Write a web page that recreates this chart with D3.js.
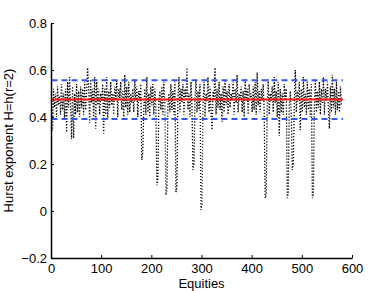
<!DOCTYPE html>
<html><head><meta charset="utf-8">
<script src="https://cdn.jsdelivr.net/npm/d3@7"></script>
<style>
html,body{margin:0;padding:0;background:#fff;}
svg text{font-family:"Liberation Sans",Arial,Helvetica,sans-serif;font-size:13px;fill:#000;}
</style></head>
<body>
<svg id="c" width="390" height="291"></svg>
<script>
// Equity index: 1,3,5,...,579 (every second equity)
const equityStart = 1, equityStep = 2;
const hurstValues = [
 0.47,0.34,0.52,0.44,0.50,0.40,0.53,0.45,0.49,0.41,
 0.54,0.43,0.50,0.39,0.52,0.335,0.55,0.44,0.57,0.45,
 0.305,0.53,0.31,0.50,0.41,0.54,0.42,0.51,0.40,0.53,
 0.44,0.52,0.41,0.55,0.43,0.50,0.61,0.53,0.375,0.56,
 0.46,0.52,0.40,0.57,0.35,0.55,0.45,0.52,0.41,0.50,
 0.47,0.54,0.33,0.52,0.41,0.57,0.39,0.51,0.44,0.55,
 0.45,0.50,0.41,0.53,0.47,0.56,0.40,0.52,0.48,0.55,
 0.43,0.51,0.40,0.58,0.44,0.53,0.41,0.55,0.42,0.50,
 0.46,0.52,0.42,0.56,0.47,0.53,0.40,0.51,0.47,0.54,
 0.217,0.25,0.44,0.52,0.41,0.57,0.42,0.50,0.40,0.53,
 0.45,0.54,0.41,0.52,0.44,0.11,0.13,0.46,0.51,0.43,
 0.53,0.41,0.55,0.45,0.068,0.09,0.44,0.50,0.42,0.54,
 0.43,0.51,0.41,0.55,0.08,0.10,0.47,0.57,0.42,0.52,
 0.46,0.54,0.41,0.52,0.47,0.61,0.43,0.50,0.40,0.55,
 0.44,0.175,0.20,0.47,0.56,0.42,0.51,0.43,0.54,0.005,
 0.03,0.46,0.55,0.40,0.50,0.47,0.57,0.42,0.53,0.42,
 0.345,0.51,0.47,0.61,0.41,0.52,0.44,0.55,0.43,0.50,
 0.38,0.53,0.42,0.56,0.45,0.51,0.41,0.54,0.44,0.50,
 0.47,0.55,0.41,0.52,0.46,0.58,0.42,0.50,0.48,0.53,
 0.42,0.51,0.40,0.56,0.47,0.52,0.41,0.54,0.48,0.50,
 0.42,0.53,0.43,0.55,0.41,0.59,0.45,0.51,0.42,0.52,
 0.47,0.54,0.42,0.055,0.07,0.45,0.56,0.41,0.50,0.47,
 0.53,0.42,0.57,0.46,0.51,0.40,0.55,0.32,0.52,0.42,
 0.50,0.41,0.54,0.47,0.52,0.055,0.08,0.45,0.51,0.41,
 0.175,0.20,0.46,0.60,0.42,0.51,0.47,0.55,0.345,0.52,
 0.42,0.57,0.44,0.50,0.41,0.55,0.43,0.52,0.40,0.54,
 0.055,0.07,0.45,0.56,0.42,0.51,0.44,0.55,0.41,0.52,
 0.46,0.57,0.41,0.52,0.47,0.55,0.43,0.35,0.53,0.42,
 0.58,0.44,0.52,0.41,0.55,0.43,0.51,0.42,0.53,0.45
];
const meanH = 0.474;
const bandUpper = 0.556;
const bandLower = 0.392;
const lineRange = [1, 582];
const xTicks = [0,100,200,300,400,500,600];
const yTicks = [-0.2,0,0.2,0.4,0.6,0.8];
const xLabel = "Equities";
const yLabel = "Hurst exponent H=h(r=2)";

const svg = d3.select("#c");
const m = {l:51, r:352, t:23, b:258};
const x = d3.scaleLinear().domain([0,600]).range([m.l, m.r]);
const y = d3.scaleLinear().domain([-0.2,0.8]).range([m.b, m.t]);

const data = hurstValues.map((v,i)=>({e: equityStart + i*equityStep, v}));

// data line (dotted black)
svg.append("path").datum(data)
  .attr("fill","none").attr("stroke","#000").attr("stroke-width",1.3)
  .attr("stroke-dasharray","1.2,1.8")
  .attr("d", d3.line().x(d=>x(d.e)).y(d=>y(d.v)));

// mean line
svg.append("line").attr("x1",x(lineRange[0])).attr("x2",x(lineRange[1]))
  .attr("y1",y(meanH)).attr("y2",y(meanH))
  .attr("stroke","#ff1a1a").attr("stroke-width",2);
// band lines
[bandUpper, bandLower].forEach(b=>{
  svg.append("line").attr("x1",x(lineRange[0])).attr("x2",x(lineRange[1]))
    .attr("y1",y(b)).attr("y2",y(b))
    .attr("stroke","#3355f0").attr("stroke-width",2)
    .attr("stroke-dasharray","6,4");
});

// axes
const xAxis = d3.axisBottom(x).tickValues(xTicks).tickSizeInner(-3).tickSizeOuter(0).tickPadding(6)
  .tickFormat(d3.format("d"));
const gx = svg.append("g").attr("transform",`translate(0,${m.b})`).call(xAxis);
const yAxis = d3.axisLeft(y).tickValues(yTicks).tickSizeInner(-3).tickSizeOuter(0).tickPadding(4)
  .tickFormat(d => d===0 ? "0" : d3.format(".1f")(d).replace("-","\u2212"));
const gy = svg.append("g").attr("transform",`translate(${m.l},0)`).call(yAxis);
[gx,gy].forEach(g=>{
  g.select(".domain").attr("stroke","#000").attr("stroke-width",1.5);
  g.selectAll(".tick line").attr("stroke","#000").attr("stroke-width",1);
  g.selectAll("text").style("font-size","13px").attr("fill","#000");
});
gx.selectAll(".tick text").attr("dy","0.71em");

svg.append("text").attr("x",(m.l+m.r)/2).attr("y",288).attr("text-anchor","middle").text(xLabel);
svg.append("text").attr("transform",`translate(13,${(m.t+m.b)/2}) rotate(-90)`)
  .attr("text-anchor","middle").text(yLabel);
</script>
</body></html>
